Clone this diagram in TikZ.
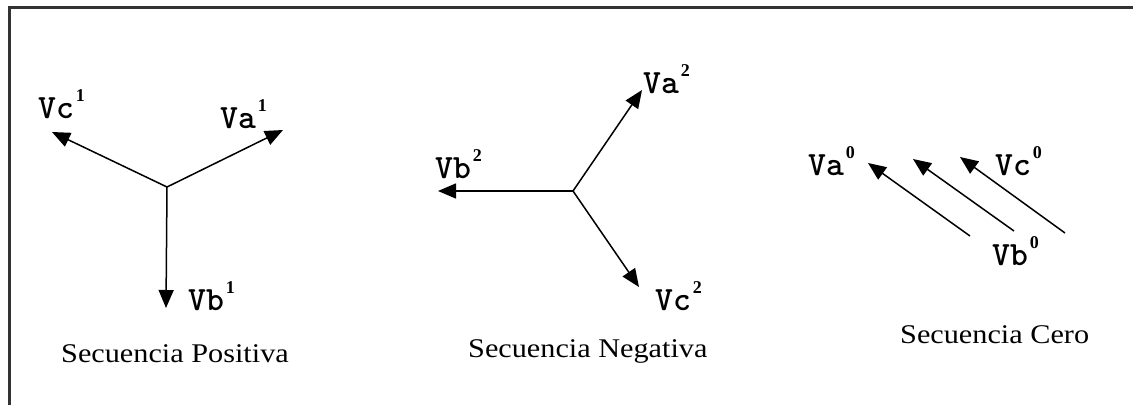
\documentclass[tikz,border=0pt]{standalone}
\usepackage{fontspec}
\usepackage{graphicx}
\setmainfont{Liberation Serif}
\usetikzlibrary{arrows.meta}
\tikzset{
  vec/.style={line width=1.5pt, -{Triangle[length=18pt,width=15pt]}},
  lbl/.style={anchor=base west, inner sep=0pt, font=\ttfamily\bfseries\fontsize{34}{34}\selectfont},
  captxt/.style={anchor=base west, inner sep=0pt, font=\fontsize{27}{27}\selectfont},
  framepen/.style={line width=3pt, draw=black!80}
}
\newcommand{\vlab}[2]{#1\hspace{2pt}\raisebox{17pt}{\rmfamily\bfseries\fontsize{18}{18}\selectfont #2}}
\newcommand{\capt}[1]{\scalebox{1.12}[1]{#1}}
\begin{document}
\begin{tikzpicture}[x=1pt,y=-1pt]
\useasboundingbox (0,0) rectangle (1133,405);
\draw[framepen] (9,405) -- (9,7) -- (1140,7);

% Positive sequence
\coordinate (o1) at (167,187);
\coordinate (a1) at (283,130);
\coordinate (b1) at (166,308);
\coordinate (c1) at (52,132);
\draw[vec] (o1) -- (a1);
\draw[vec] (o1) -- (b1);
\draw[vec] (o1) -- (c1);
\node[lbl] (la1) at (220,128) {\vlab{Va}{1}};
\node[lbl] (lb1) at (188,310) {\vlab{Vb}{1}};
\node[lbl] (lc1) at (38,118) {\vlab{Vc}{1}};
\node[captxt] (cp) at (61,362) {\capt{Secuencia Positiva}};

% Negative sequence
\coordinate (o2) at (573,191);
\coordinate (a2) at (642,90);
\coordinate (b2) at (438,191);
\coordinate (c2) at (639,287);
\draw[vec] (o2) -- (a2);
\draw[vec] (o2) -- (b2);
\draw[vec] (o2) -- (c2);
\node[lbl] (la2) at (643,93) {\vlab{Va}{2}};
\node[lbl] (lb2) at (435,178) {\vlab{Vb}{2}};
\node[lbl] (lc2) at (655,310) {\vlab{Vc}{2}};
\node[captxt] (cn) at (468,357) {\capt{Secuencia Negativa}};

% Zero sequence
\coordinate (ta0) at (970,236);
\coordinate (ha0) at (868,163);
\coordinate (tb0) at (1014,231);
\coordinate (hb0) at (913,159);
\coordinate (tc0) at (1065,233);
\coordinate (hc0) at (960,157);
\draw[vec] (ta0) -- (ha0);
\draw[vec] (tb0) -- (hb0);
\draw[vec] (tc0) -- (hc0);
\node[lbl] (la0) at (808,175) {\vlab{Va}{0}};
\node[lbl] (lb0) at (992,265) {\vlab{Vb}{0}};
\node[lbl] (lc0) at (995,175) {\vlab{Vc}{0}};
\node[captxt] (cz) at (900,343) {\capt{Secuencia Cero}};
\end{tikzpicture}
\end{document}
